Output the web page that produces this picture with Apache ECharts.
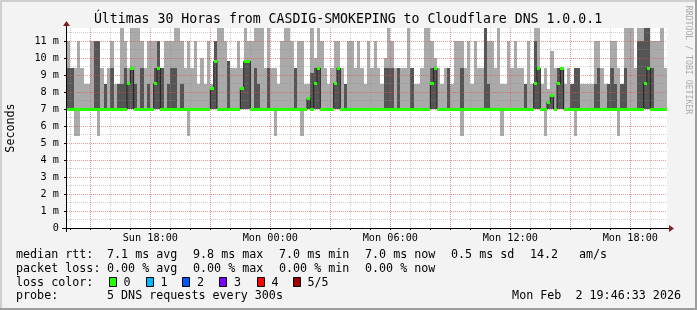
<!DOCTYPE html>
<html>
<head>
<meta charset="utf-8">
<script src="https://cdn.jsdelivr.net/npm/echarts@6/dist/echarts.min.js"></script>
<style>
html,body{margin:0;padding:0;background:#f3f3f3;}
#chart{width:697px;height:310px;}
</style>
</head>
<body>
<div id="chart"></div>
<script>
// ---- time frame (minutes since Sunday 00:00) ----
const startMinute = 830;      // Sun 13:50
const stepMinutes = 10;
const spanMinutes = 1800;     // 30 hours
const yMaxValue = 11.765;     // ms, top of plot

// ---- smoke data (ms), one value per 10-minute slot ----
const rttMax = [
 11,9.4,9.4,11,9.4,8.5,8.5,11,11,11,
 9.4,8.5,9.4,11,8.5,8.5,12,11,9.4,12,
 12,12,11,9.4,11,11,11,11,9.4,11,
 11,11,12,12,11,9.4,11,9.4,11,8.5,
 10,8.5,11,8.5,11,12,12,11,9.8,9.4,
 9.4,11,9.4,12,11,11,12,12,12,9.4,
 12,9.4,9.4,8.5,11,12,12,11,9.4,11,
 11,8.5,8.5,12,10,12,11,9.4,8.5,9.4,
 11,11,9.4,8.5,11,11,9.4,11,9.4,8.5,
 11,9.4,11,9.4,8.5,10,12,11,9.4,9.4,
 9.4,9.4,12,9.4,8.5,8.5,9.4,12,12,11,
 10,9.4,8.5,9.4,9.4,8.5,11,11,11,9.4,
 11,8.5,11,9.4,9.4,12,11,11,9.4,12,
 8.5,8.5,11,9.4,11,9.4,9.4,8.5,11,8.5,
 12,12,8.5,9.4,8.2,10.4,9.4,9.4,9.4,8.5,
 9.4,8.5,9.4,9.4,8.5,8.5,8.5,8.5,11,11,
 9.4,8.5,8.5,11,11,9.4,8.5,12,12,12,
 9.4,12,12,12,12,11,11,11,12,9.4
];
const rttHigh = [
 9.4,9.4,7,7,7,7,7,7,11,11,
 7,8.5,7,9.4,7,8.5,8.5,9.4,8.5,9.4,
 8.5,7,9.4,7,8.5,7,9.4,11,9.4,7,
 8.5,9.4,9.4,7,8.5,7,7,7,7,7,
 7,7,7,8.2,11,7,7,7,9.8,7,
 7,7,8.2,9.8,9.8,7,9.4,8.5,7,7,
 9.4,7,7,7,7,7,7,7,9.4,7,
 7,7,7.6,9.1,9.4,9.4,7,7,7,7,
 8.5,9.4,7,8.5,7,7,7,7,7,7,
 7,7,7,7,7,9.4,9.4,9.4,7,9.4,
 7,7,7,9.4,7,7,7,7,7,9.4,
 9.4,7,7,7,9.4,7,7,7,9.4,7,
 7,7,7,7,7,12,8.5,7,7,7,
 7,7,7,7,7,7,7,8.5,7,7,
 11,9.4,7,7,7.4,7.8,7,9.4,9.4,7,
 7,8.5,9.4,9.4,7,7,7,7,8.5,9.4,
 7,7,8.5,9.4,8.5,7,8.5,9.4,7,7,
 7,11,11,12,12,9.4,7,7,7,7
];
const rttLow = [
 7,7,7,7,7,7,7,7,7,7, 7,7,7,7,7,7,7,7,7,7, 7,7,7,7,7,7,7,7,7,7,
 7,7,7,7,7,7,7,7,7,7, 7,7,7,7,7,7,7,7,7,7, 7,7,7,7,7,7,7,7,7,7,
 7,7,7,7,7,7,7,7,7,7, 7,7,7,7,7,7,7,7,7,7, 7,7,7,7,7,7,7,7,7,7,
 7,7,7,7,7,7,7,7,7,7, 7,7,7,7,7,7,7,7,7,7, 7,7,7,7,7,7,7,7,7,7,
 7,7,7,7,7,7,7,7,7,7, 7,7,7,7,7,7,7,7,7,7, 7,7,7,7,7,7,7,7,7,7,
 7,7,7,7,7,7,7,7,7,7, 7,7,7,7,7,7,7,7,7,7, 7,7,7,7,7,7,7,7,7,7
];
const rttMin = [
 7,7,5.4,5.4,7,7,7,7,7,5.4, 7,7,7,7,7,7,7,7,7,7, 7,7,7,7,7,7,7,7,7,7,
 7,7,7,7,7,7,5.4,7,7,7, 7,7,7,7,7,7,7,7,7,7, 7,7,7,7,7,7,7,7,7,7,
 7,7,5.4,7,7,7,7,7,7,7, 5.4,7,7,7,7,7,7,7,7,7, 7,7,7,7,7,7,7,7,7,7,
 7,7,7,7,7,7,7,7,7,7, 7,7,7,7,7,7,7,7,7,7, 7,7,7,7,7,7,7,7,5.4,7,
 7,7,7,7,7,7,7,7,7,7, 5.4,7,7,7,7,7,7,7,7,7, 7,7,7,5.4,7,7,7,7,7,7,
 7,7,5.4,7,7,7,7,7,7,7, 7,7,7,7,7,5.4,7,7,7,7, 7,7,7,7,7,7,7,7,7,7
];
const rttMedian = [
 7,7,7,7,7,7,7,7,7,7, 7,7,7,7,7,7,7,7,8.5,9.4, 7,7,7,7,7,7,8.5,9.4,7,7,
 7,7,7,7,7,7,7,7,7,7, 7,7,7,8.2,9.8,7,7,7,7,7, 7,7,8.2,9.8,9.8,7,7,7,7,7,
 7,7,7,7,7,7,7,7,7,7, 7,7,7.6,7,8.5,9.4,7,7,7,7, 8.5,9.4,7,7,7,7,7,7,7,7,
 7,7,7,7,7,7,7,7,7,7, 7,7,7,7,7,7,7,7,7,8.5, 9.4,7,7,7,7,7,7,7,7,7,
 7,7,7,7,7,7,7,7,7,7, 7,7,7,7,7,7,7,7,7,7, 8.5,9.4,7,7,7.4,7.8,7,8.5,9.4,7,
 7,7,7,7,7,7,7,7,7,7, 7,7,7,7,7,7,7,7,7,7, 7,7,7,8.5,9.4,7,7,7,7,7
];

// ---- axis ticks / labels ----
const xLabelTimes = [1080, 1440, 1800, 2160, 2520];
const xLabels = ['Sun 18:00', 'Mon 00:00', 'Mon 06:00', 'Mon 12:00', 'Mon 18:00'];
// hourly grid from Sun 14:00 to Mon 19:00; every third hour (15:00, 18:00, ...) is a major line
const hourGridTimes = [840, 900, 960, 1020, 1080, 1140, 1200, 1260, 1320, 1380, 1440, 1500, 1560, 1620, 1680,
  1740, 1800, 1860, 1920, 1980, 2040, 2100, 2160, 2220, 2280, 2340, 2400, 2460, 2520, 2580];
const yTickValues = [0, 1, 2, 3, 4, 5, 6, 7, 8, 9, 10, 11];
const yMinorGrid = [0.5, 1.5, 2.5, 3.5, 4.5, 5.5, 6.5, 7.5, 8.5, 9.5, 10.5, 11.5];

// ---- legend ----
const lossLabels = ['0', '1', '2', '3', '4', '5/5'];
const lossColors = ['#26ff00', '#00b8ff', '#0059ff', '#7e00ff', '#ff0000', '#a10000'];

const FONT = 'DejaVu Sans Mono';
const LIGHT = '#aaaaaa', DARK = '#555555', GREEN = '#26ff00';
const MINOR_C = 'rgba(143,143,143,0.45)', MAJOR_C = 'rgba(222,80,80,0.6)';

const times = rttMax.map((_, i) => startMinute + i * stepMinutes);
const smokeData = times.map((t, i) => [t, rttMin[i], rttMax[i], rttLow[i], rttHigh[i], rttMedian[i]]);
const medianLine = times.map((t, i) => [t, rttMedian[i]]);
medianLine.push([startMinute + spanMinutes, rttMedian[rttMedian.length - 1]]);

function colRect(api, lo, hi) {
  const t = api.value(0);
  const a = api.coord([t, lo]);
  const b = api.coord([t + stepMinutes, hi]);
  const x0 = Math.round(a[0]), x1 = Math.round(b[0]);
  const yB = Math.round(a[1]), yT = Math.round(b[1]);
  return { x: x0, y: yT, width: x1 - x0, height: yB - yT };
}

const chart = echarts.init(document.getElementById('chart'), null, { renderer: 'canvas' });

function txt(text, x, y, extra) {
  return {
    type: 'text', x: x, y: y, silent: true, z: 100,
    style: Object.assign({
      text: text, fill: '#000', fontFamily: FONT, fontSize: 11.7,
      textVerticalAlign: 'middle', verticalAlign: 'middle',
      textAlign: 'left', align: 'left'
    }, extra || {})
  };
}

const graphics = [
  // frame shading
  { type: 'rect', shape: { x: 0, y: 0, width: 697, height: 2 }, style: { fill: '#cfcfcf' }, silent: true, z: 100 },
  { type: 'rect', shape: { x: 0, y: 0, width: 2, height: 310 }, style: { fill: '#cfcfcf' }, silent: true, z: 100 },
  { type: 'rect', shape: { x: 695, y: 0, width: 2, height: 310 }, style: { fill: '#9e9e9e' }, silent: true, z: 100 },
  { type: 'rect', shape: { x: 0, y: 308, width: 697, height: 2 }, style: { fill: '#9e9e9e' }, silent: true, z: 100 },
  // axes lines and arrows
  { type: 'line', shape: { x1: 62, y1: 228.5, x2: 669, y2: 228.5 }, style: { stroke: '#000', lineWidth: 1 }, silent: true, z: 100 },
  { type: 'polygon', shape: { points: [[669, 225], [674, 228.5], [669, 232]] }, style: { fill: '#7f1f1f' }, silent: true, z: 100 },
  { type: 'line', shape: { x1: 66.5, y1: 232, x2: 66.5, y2: 26 }, style: { stroke: '#000', lineWidth: 1 }, silent: true, z: 100 },
  { type: 'polygon', shape: { points: [[63, 26], [66.5, 21], [70, 26]] }, style: { fill: '#7f1f1f' }, silent: true, z: 100 },
  // title
  txt('Últimas 30 Horas from CASDIG-SMOKEPING to Cloudflare DNS 1.0.0.1', 348, 19.5,
      { fontSize: 13.2, textAlign: 'center', align: 'center' }),
  // y axis unit
  Object.assign(txt('Seconds', 10.5, 128, { textAlign: 'center', align: 'center' }), { rotation: Math.PI / 2 }),
  // watermark
  Object.assign(txt('RRDTOOL / TOBI OETIKER', 688.5, 60, { fontSize: 8.2, fill: '#aaaaaa', textAlign: 'center', align: 'center' }), { rotation: -Math.PI / 2 }),
  // legend line 1
  txt('median rtt:', 16, 255), txt('7.1 ms avg', 107, 255), txt('9.8 ms max', 193, 255),
  txt('7.0 ms min', 279, 255), txt('7.0 ms now', 365, 255), txt('0.5 ms sd', 451, 255),
  txt('14.2', 530, 255), txt('am/s', 579, 255),
  // legend line 2
  txt('packet loss:', 16, 268.5), txt('0.00 % avg', 107, 268.5), txt('0.00 % max', 193, 268.5),
  txt('0.00 % min', 279, 268.5), txt('0.00 % now', 365, 268.5),
  // legend line 3
  txt('loss color:', 16, 282.5),
  // legend line 4
  txt('probe:', 16, 296), txt('5 DNS requests every 300s', 107, 296),
  txt('Mon Feb  2 19:46:33 2026', 681, 296, { textAlign: 'right', align: 'right' })
];
const boxX = [109, 146, 182.5, 219.5, 257, 293];
lossLabels.forEach((lab, i) => {
  graphics.push({ type: 'rect', shape: { x: Math.floor(boxX[i]) + 0.5, y: 277.5, width: 7, height: 9 },
    style: { fill: lossColors[i], stroke: '#000', lineWidth: 1 }, silent: true, z: 100 });
  graphics.push(txt(lab, boxX[i] + 14.5, 282.5));
});

const axisFont = { fontFamily: FONT, fontSize: 10.2, color: '#000' };

const option = {
  backgroundColor: '#f3f3f3',
  animation: false,
  grid: { left: 67, top: 28, width: 600, height: 200, show: true, backgroundColor: '#ffffff', borderWidth: 0, containLabel: false, z: 0 },
  xAxis: {
    type: 'value', min: startMinute, max: startMinute + spanMinutes, z: 3,
    axisLine: { show: false },
    splitLine: { show: true, lineStyle: { color: [MINOR_C, MAJOR_C, MINOR_C], width: 1, type: [1, 1] } },
    axisTick: { show: true, length: 2, customValues: hourGridTimes, lineStyle: { color: '#000' } },
    axisLabel: Object.assign({
      show: true, customValues: xLabelTimes, margin: 5,
      formatter: v => { const i = xLabelTimes.indexOf(v); return i >= 0 ? xLabels[i] : ''; }
    }, axisFont)
  },
  yAxis: [
    {
      type: 'value', min: 0, max: yMaxValue, interval: 1, z: 3,
      axisLine: { show: false },
      splitLine: { show: true, lineStyle: { color: MAJOR_C, width: 1, type: [1, 1] } },
      axisTick: { show: true, length: 3, customValues: yTickValues, lineStyle: { color: '#000' } },
      axisLabel: Object.assign({
        show: true, customValues: yTickValues, margin: 8,
        formatter: v => (v === 0 ? '0' : v + ' m')
      }, axisFont)
    },
    {
      type: 'value', min: 0, max: yMaxValue, interval: 0.5, z: 3, position: 'left',
      axisLine: { show: false },
      axisLabel: { show: false },
      axisTick: { show: false, customValues: yMinorGrid },
      splitLine: { show: true, lineStyle: { color: MINOR_C, width: 1, type: [1, 1] } }
    }
  ],
  graphic: { elements: graphics },
  series: [
    {
      type: 'custom', name: 'smoke outer', data: smokeData, clip: true, z: 1, silent: true,
      encode: { x: 0, y: [1, 2] },
      renderItem: (p, api) => {
        const lo = api.value(1), hi = api.value(2);
        if (hi <= lo) return null;
        return { type: 'rect', shape: colRect(api, lo, hi), style: { fill: LIGHT } };
      }
    },
    {
      type: 'custom', name: 'smoke inner', data: smokeData, clip: true, z: 2, silent: true,
      encode: { x: 0, y: [3, 4] },
      renderItem: (p, api) => {
        const lo = api.value(3), hi = api.value(4);
        if (hi <= lo) return null;
        return { type: 'rect', shape: colRect(api, lo, hi), style: { fill: DARK } };
      }
    },
    {
      type: 'line', name: 'median rtt', data: medianLine, step: 'end', symbol: 'none', z: 5, silent: true,
      lineStyle: { color: '#202020', width: 1 }
    },
    {
      type: 'custom', name: 'median loss color', data: smokeData, clip: true, z: 6, silent: true,
      encode: { x: 0, y: 5 },
      renderItem: (p, api) => {
        const t = api.value(0), m = api.value(5);
        const a = api.coord([t, m]), b = api.coord([t + stepMinutes, m]);
        const x0 = Math.round(a[0]), x1 = Math.round(b[0]);
        return { type: 'rect', shape: { x: x0, y: Math.round(a[1] - 1.5), width: x1 - x0, height: 3 }, style: { fill: GREEN } };
      }
    }
  ]
};
chart.setOption(option);
</script>
</body>
</html>
